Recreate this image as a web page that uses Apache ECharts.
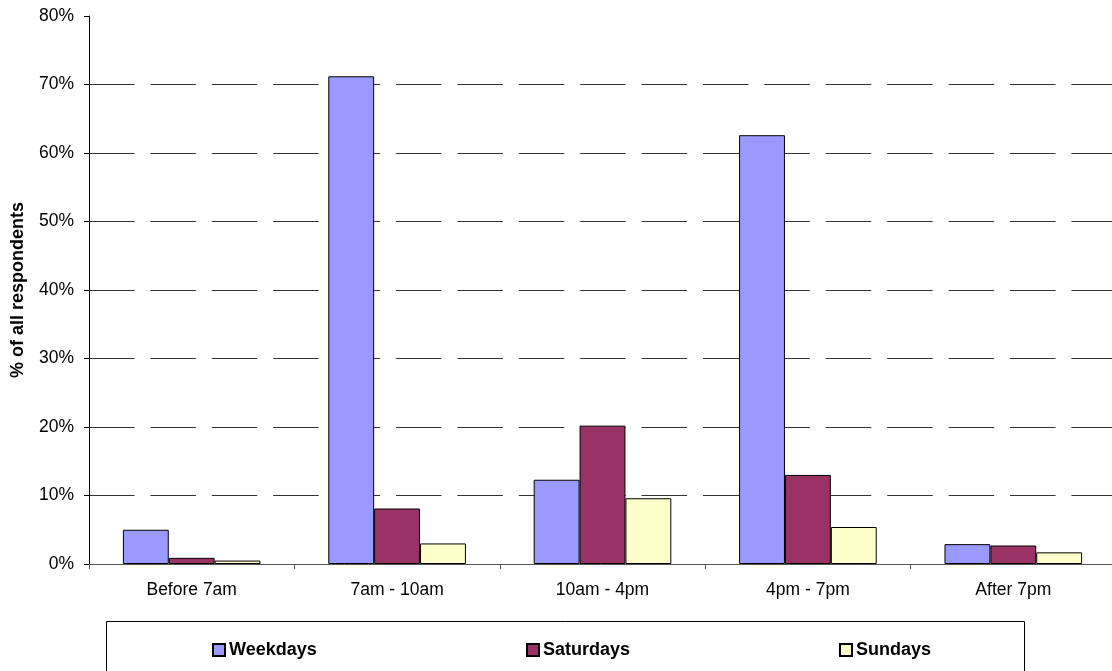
<!DOCTYPE html>
<html><head><meta charset="utf-8">
<script src="https://cdn.jsdelivr.net/npm/echarts@6/dist/echarts.min.js"></script>
<style>html,body{margin:0;padding:0;background:#fff}#c{width:1112px;height:671px}</style>
</head><body><div id="c"></div>
<script>
const categories = ['Before 7am', '7am - 10am', '10am - 4pm', '4pm - 7pm', 'After 7pm'];
const weekdays = [5.0, 71.2, 12.3, 62.6, 2.9];
const saturdays = [0.9, 8.1, 20.2, 13.0, 2.7];
const sundays = [0.5, 3.0, 9.6, 5.4, 1.7];
const seriesNames = ['Weekdays', 'Saturdays', 'Sundays'];
const colors = ['#9999ff', '#993366', '#ffffcc'];

const font = '"Liberation Sans", Arial, sans-serif';
const chart = echarts.init(document.getElementById('c'), null, {renderer: 'canvas'});
const allData = [weekdays, saturdays, sundays];
const legendLefts = [212, 526, 839];
chart.setOption({
  animation: false,
  textStyle: {fontFamily: font},
  grid: {left: 89, right: -4, top: 16, bottom: 107, containLabel: false, outerBoundsMode: 'none'},
  xAxis: {
    type: 'category', data: categories,
    axisLine: {lineStyle: {color: '#555', width: 1}},
    axisTick: {show: true, length: 5, lineStyle: {color: '#555'}},
    axisLabel: {color: '#000', fontSize: 17.5, fontFamily: font, margin: 17}
  },
  yAxis: {
    type: 'value', min: 0, max: 80, interval: 10,
    name: '% of all respondents', nameLocation: 'middle', nameGap: 62, nameMoveOverlap: false,
    nameTextStyle: {fontSize: 18, fontWeight: 'bold', color: '#000', fontFamily: font},
    axisLine: {show: true, lineStyle: {color: '#000'}},
    axisTick: {show: true, length: 5, lineStyle: {color: '#000'}},
    axisLabel: {formatter: '{value}%', color: '#000', fontSize: 17.5, fontFamily: font, margin: 15},
    splitLine: {show: true, showMinLine: false, showMaxLine: false, lineStyle: {color: '#333', type: [45.5, 15.9], width: 1}}
  },
  legend: seriesNames.map((n, i) => ({
    data: [n], left: legendLefts[i], top: 641, padding: 0,
    itemWidth: 12, itemHeight: 12, itemGap: 4,
    icon: 'rect',
    textStyle: {fontSize: 18, fontWeight: 'bold', color: '#000', fontFamily: font, padding: [0, 0, 0, -1]}
  })),
  graphic: [{
    type: 'rect', left: 104, top: 619, shape: {width: 918, height: 60},
    style: {fill: 'none', stroke: '#000', lineWidth: 1}, silent: true, z: -1
  }],
  series: seriesNames.map((n, i) => ({
    name: n, type: 'bar', data: allData[i],
    barGap: '0%', barCategoryGap: '33%',
    itemStyle: {color: colors[i], borderColor: '#000', borderWidth: 1}
  }))
});
</script></body></html>
